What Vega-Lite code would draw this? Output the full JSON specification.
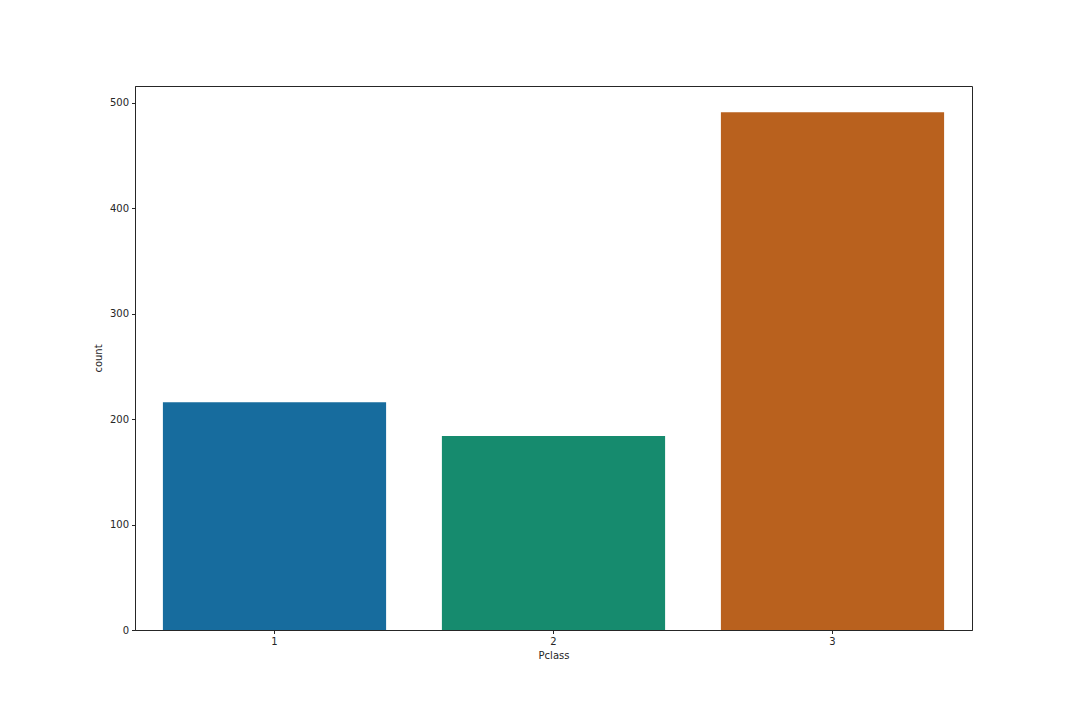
{
  "$schema": "https://vega.github.io/schema/vega-lite/v6.json",
  "width": 837,
  "height": 544,
  "autosize": {"type": "none"},
  "padding": {"left": 135, "top": 86, "right": 108, "bottom": 90},
  "background": "white",
  "data": {
    "values": [
      {"Pclass": "1", "count": 216},
      {"Pclass": "2", "count": 184},
      {"Pclass": "3", "count": 491}
    ]
  },
  "config": {
    "font": "DejaVu Sans",
    "view": {"stroke": "#262626", "strokeWidth": 1},
    "axis": {
      "labelFont": "DejaVu Sans",
      "titleFont": "DejaVu Sans",
      "labelFontSize": 10,
      "titleFontSize": 10,
      "titleFontWeight": "normal",
      "labelColor": "#262626",
      "titleColor": "#262626",
      "tickColor": "#262626",
      "domainColor": "#262626",
      "tickSize": 3.5,
      "grid": false
    }
  },
  "mark": {"type": "bar"},
  "encoding": {
    "x": {
      "field": "Pclass",
      "type": "nominal",
      "title": "Pclass",
      "scale": {"paddingInner": 0.2, "paddingOuter": 0.1},
      "axis": {"labelAngle": 0, "labelPadding": 3, "titlePadding": 4}
    },
    "y": {
      "field": "count",
      "type": "quantitative",
      "title": "count",
      "scale": {"domain": [0, 516], "nice": false},
      "axis": {"values": [0, 100, 200, 300, 400, 500], "labelPadding": 3, "titlePadding": 6}
    },
    "color": {
      "field": "Pclass",
      "type": "nominal",
      "scale": {"domain": ["1", "2", "3"], "range": ["#176c9e", "#168b6e", "#b9611e"]},
      "legend": null
    }
  }
}
